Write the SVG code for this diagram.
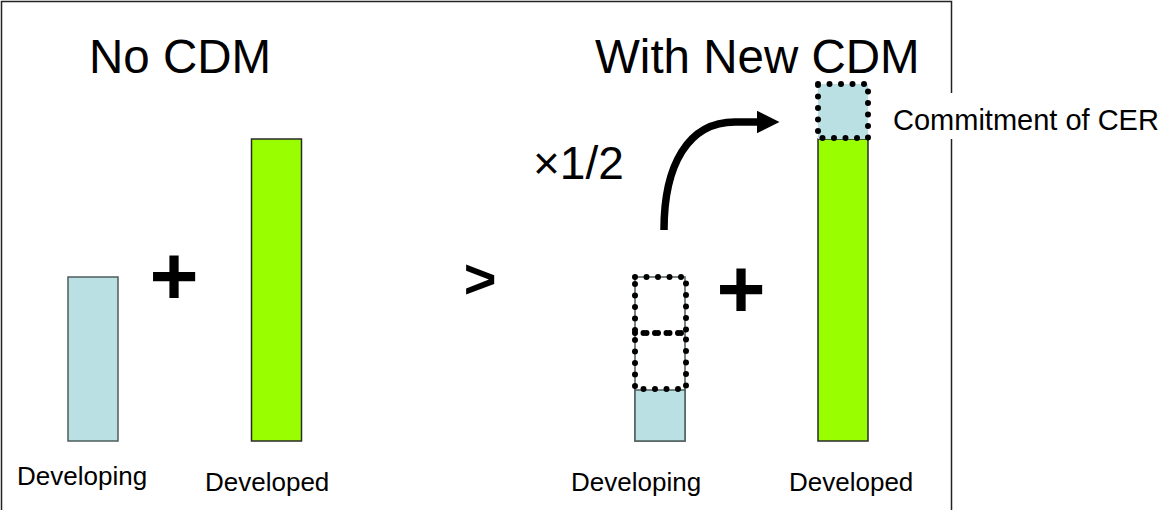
<svg xmlns="http://www.w3.org/2000/svg" width="1162" height="510" viewBox="0 0 1162 510">
<defs>
<style>
.t{font-family:"Liberation Sans",Arial,sans-serif;fill:#000}
.h{font-size:47.5px}
.l{font-size:26px}
.op{font-size:84px;font-weight:bold}
.blue{fill:#bae0e3;stroke:#4d5c5c;stroke-width:1.5}
.green{fill:#99ff00;stroke:#2a2a2a;stroke-width:1.5}
.dot{fill:none;stroke:#000;stroke-width:6;stroke-dasharray:0 11.5;stroke-linecap:round}
</style>
<marker id="ah" viewBox="0 0 10 10" refX="0" refY="5" markerWidth="3" markerHeight="3" orient="auto" markerUnits="strokeWidth">
<path d="M0,0 L10,5 L0,10 z" fill="#000"/>
</marker>
</defs>
<rect width="1162" height="510" fill="#fff"/>
<rect id="frame" x="1.5" y="1.5" width="950" height="530" fill="none" stroke="#222" stroke-width="1.5"/>

<g id="title-left"><text class="t h" x="89" y="73">No CDM</text></g>
<g id="title-right"><text class="t h" x="595" y="73">With New CDM</text></g>

<g id="bar-developing-left">
<rect class="blue" x="68" y="277" width="50" height="164"/>
<text class="t l" x="17" y="485">Developing</text>
</g>
<g id="plus-left"><text class="t op" x="174" y="305" text-anchor="middle">+</text></g>
<g id="bar-developed-left">
<rect class="green" x="251.5" y="139" width="50" height="302"/>
<text class="t l" x="205" y="491">Developed</text>
</g>

<g id="greater"><text class="t" x="480" y="298" text-anchor="middle" style="font-size:56px;font-weight:bold">&gt;</text></g>

<g id="bar-developing-right">
<rect x="635" y="277" width="50" height="164" fill="#fff" stroke="#4d5c5c" stroke-width="1.5"/>
<rect x="635" y="390" width="50" height="51" fill="#bae0e3" stroke="#4d5c5c" stroke-width="1.5"/>
<rect class="dot" x="635" y="277" width="51" height="56"/>
<rect class="dot" x="635" y="333" width="51" height="56"/>
<text class="t l" x="571" y="491">Developing</text>
</g>
<g id="plus-right"><text class="t op" x="741" y="318" text-anchor="middle">+</text></g>
<g id="bar-developed-right">
<rect class="green" x="818" y="139" width="50" height="302"/>
<rect x="818" y="84" width="50" height="55" fill="#bae0e3"/>
<rect class="dot" x="818" y="84" width="50" height="54"/>
<text class="t l" x="789" y="491">Developed</text>
</g>

<g id="label-commitment">
<rect x="886" y="93" width="276" height="46" fill="#fff"/>
<text class="t" x="893" y="130" style="font-size:29px">Commitment of CER</text>
</g>
<g id="label-half"><text class="t" x="533" y="179" style="font-size:46px">×1/2</text></g>

<g id="connectors">
<path d="M664,230 C664,165 688,122 735,122 L757,122" fill="none" stroke="#000" stroke-width="7.5" marker-end="url(#ah)"/>
</g>
</svg>
